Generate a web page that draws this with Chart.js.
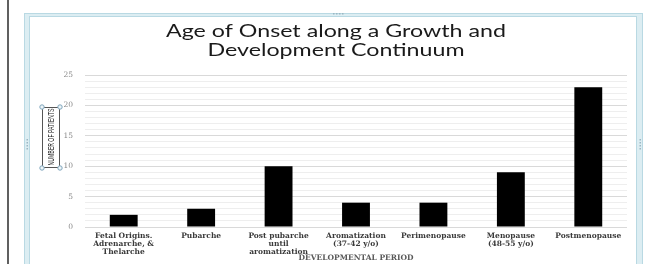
<!DOCTYPE html>
<html>
<head>
<meta charset="utf-8">
<script src="https://cdn.jsdelivr.net/npm/chart.js@4/dist/chart.umd.min.js"></script>
<style>
  html, body { margin: 0; padding: 0; background: #fff; }
  #wrap { width: 657px; height: 264px; }
</style>
</head>
<body>
<div id="wrap"><canvas id="c" width="657" height="264"></canvas></div>
<script>
// ---- Data ----
const categories = [
  ["Fetal Origins.", "Adrenarche, &", "Thelarche"],
  ["Pubarche"],
  ["Post pubarche", "until", "aromatization"],
  ["Aromatization", "(37-42 y/o)"],
  ["Perimenopause"],
  ["Menopause", "(48-55 y/o)"],
  ["Postmenopause"]
];
const patientCounts = [2, 3, 10, 4, 4, 9, 23];
const yTickValues = [0, 5, 10, 15, 20, 25];
const chartTitle = ["Age of Onset along a Growth and", "Development Continuum"];
const yAxisTitle = "NUMBER OF PATIENTS";
const xAxisTitle = "DEVELOPMENTAL PERIOD";

const PLOT_LEFT = 85, PLOT_RIGHT = 627, PLOT_BOTTOM = 227;
const LAYOUT_LEFT = 30, LAYOUT_BOTTOM = 1;

const decor = {
  id: 'decor',
  beforeDraw(chart) {
    const ctx = chart.ctx;
    ctx.save();
    ctx.fillStyle = '#ffffff';
    ctx.fillRect(0, 0, chart.width, chart.height);
    ctx.strokeStyle = '#2b2b2b';
    ctx.lineWidth = 1.5;
    ctx.beginPath(); ctx.moveTo(8, 0); ctx.lineTo(8, chart.height); ctx.stroke();
    ctx.fillStyle = '#dcedf2';
    ctx.fillRect(24, 13, 6, chart.height);
    ctx.fillRect(637, 13, 6, chart.height);
    ctx.fillRect(24, 13, 619, 3);
    ctx.strokeStyle = '#b9d9e3';
    ctx.lineWidth = 1;
    ctx.strokeRect(24.5, 13.5, 618, chart.height);
    ctx.strokeRect(29.5, 16.5, 607, chart.height);
    ctx.fillStyle = '#9bb7c4';
    for (let i = 0; i < 4; i++) {
      ctx.fillRect(333 + i * 3, 13, 1.5, 1.5);
      ctx.fillRect(26.5, 139 + i * 3, 1.5, 1.5);
      ctx.fillRect(639.5, 139 + i * 3, 1.5, 1.5);
    }
    ctx.restore();
  },
  afterDraw(chart) {
    const ctx = chart.ctx;
    ctx.save();
    ctx.fillStyle = '#1a1a1a';
    ctx.font = '18px Lato, sans-serif';
    ctx.textAlign = 'center';
    ctx.textBaseline = 'middle';
    const cx = (PLOT_LEFT + PLOT_RIGHT) / 2 - 20;
    const lineYs = [31, 50];
    chartTitle.forEach((line, i) => {
      ctx.save();
      ctx.translate(cx, lineYs[i]);
      ctx.scale(1.29, 1);
      ctx.fillText(line, 0, 0);
      ctx.restore();
    });
    ctx.restore();

    ctx.save();
    const bx = 42, by = 107, bw = 17, bh = 60;
    ctx.strokeStyle = '#555';
    ctx.lineWidth = 1;
    ctx.strokeRect(bx + 0.5, by + 0.5, bw, bh);
    ctx.translate(bx + bw / 2 + 0.5, by + bh / 2);
    ctx.rotate(-Math.PI / 2);
    ctx.fillStyle = '#1a1a1a';
    ctx.font = '8.5px "Liberation Sans Narrow", "Liberation Sans", sans-serif';
    ctx.textAlign = 'center';
    ctx.textBaseline = 'middle';
    ctx.fillText(yAxisTitle, 0, 0.5, 57);
    ctx.restore();
    ctx.save();
    ctx.strokeStyle = '#7fa6bd';
    ctx.fillStyle = '#eef5f8';
    ctx.lineWidth = 1;
    [[bx, by], [bx + bw + 1, by], [bx, by + bh + 1], [bx + bw + 1, by + bh + 1]].forEach(([x, y]) => {
      ctx.beginPath(); ctx.arc(x, y, 2.2, 0, Math.PI * 2); ctx.fill(); ctx.stroke();
    });
    ctx.restore();
  }
};

new Chart(document.getElementById('c'), {
  type: 'bar',
  data: {
    labels: categories,
    datasets: [{
      data: patientCounts,
      backgroundColor: '#000000',
      borderWidth: 0,
      barPercentage: 0.36,
      categoryPercentage: 1.0
    }]
  },
  options: {
    responsive: false,
    animation: false,
    devicePixelRatio: 1,
    layout: { padding: { left: LAYOUT_LEFT, right: 657 - PLOT_RIGHT, top: 75, bottom: LAYOUT_BOTTOM } },
    plugins: {
      legend: { display: false },
      tooltip: { enabled: false },
      title: { display: false }
    },
    scales: {
      x: {
        grid: { display: false, drawTicks: false },
        border: { display: false },
        ticks: {
          color: '#3a3a3a',
          font: { family: '"DejaVu Serif", serif', size: 7.5, weight: 'bold', lineHeight: 1.05 },
          maxRotation: 0, minRotation: 0, autoSkip: false, padding: 5
        },
        title: {
          display: true,
          text: xAxisTitle,
          color: '#595959',
          font: { family: '"DejaVu Serif", serif', size: 7.5, weight: 'bold' },
          padding: { top: 0, bottom: 0 }
        },
        afterFit(scale) { scale.height = 264 - PLOT_BOTTOM - LAYOUT_BOTTOM; }
      },
      y: {
        min: 0, max: 25,
        afterBuildTicks(scale) {
          const t = [];
          for (let v = 0; v <= 25; v++) t.push({ value: v });
          scale.ticks = t;
        },
        ticks: {
          color: '#8a8a8a',
          autoSkip: false,
          font: { family: '"DejaVu Serif", serif', size: 7.5 },
          padding: 12,
          callback: (v) => yTickValues.includes(v) ? String(v) : ''
        },
        grid: {
          drawTicks: false,
          color: (c) => (c.tick && yTickValues.includes(c.tick.value)) ? '#d9d9d9' : '#eeeeee',
          lineWidth: 1
        },
        border: { display: false },
        afterFit(scale) { scale.width = PLOT_LEFT - LAYOUT_LEFT; }
      }
    }
  },
  plugins: [decor]
});
</script>
</body>
</html>
